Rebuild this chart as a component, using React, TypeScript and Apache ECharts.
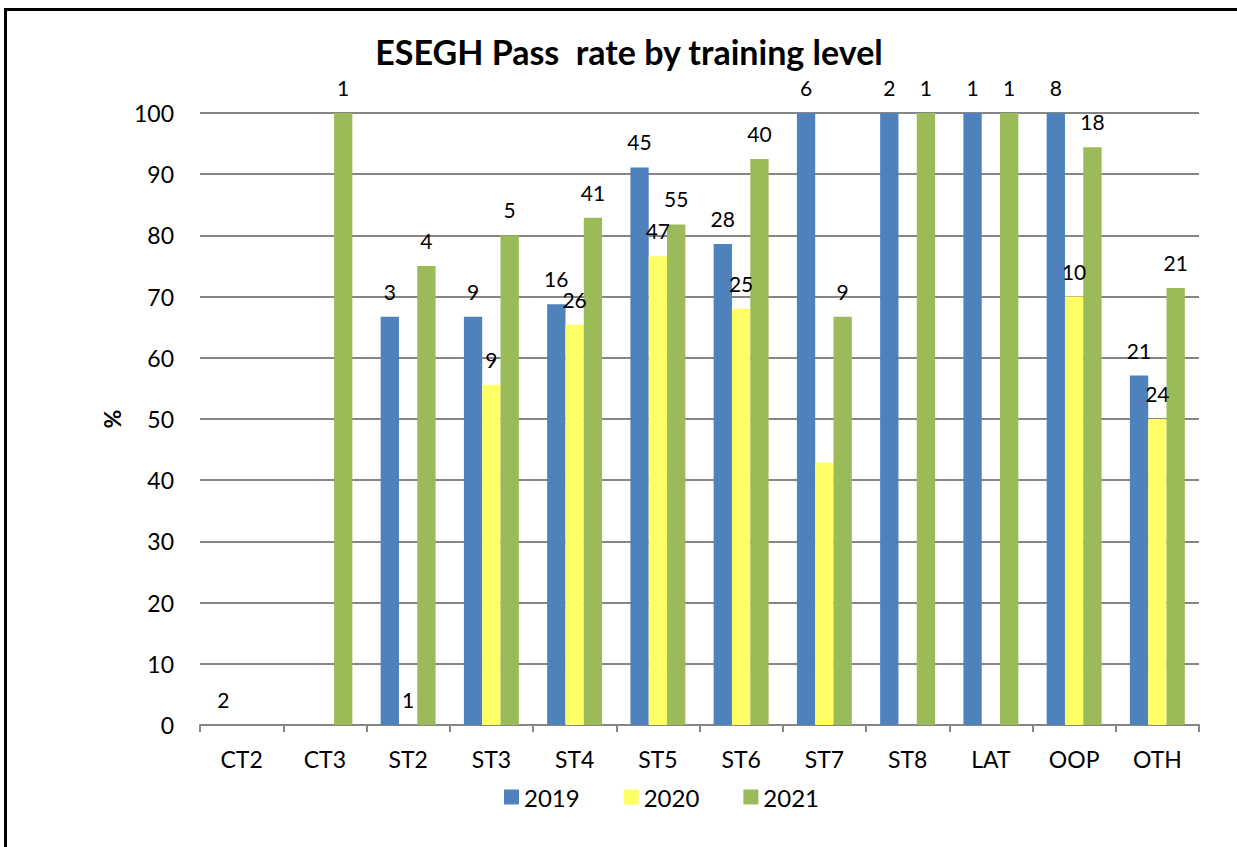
import React, { useEffect, useRef } from "react";
import * as echarts from "echarts";

const categories = ["CT2", "CT3", "ST2", "ST3", "ST4", "ST5", "ST6", "ST7", "ST8", "LAT", "OOP", "OTH"];
const seriesNames = ["2019", "2020", "2021"];
const values2019 = [0, null, 66.7, 66.7, 68.75, 91.1, 78.6, 100, 100, 100, 100, 57.1];
const values2020 = [null, null, 0, 55.6, 65.4, 76.6, 68, 42.9, null, null, 70, 50];
const values2021 = [null, 100, 75, 80, 82.9, 81.8, 92.5, 66.7, 100, 100, 94.4, 71.4];
const counts2019 = [2, null, 3, 9, 16, 45, 28, 6, 2, 1, 8, 21];
const counts2020 = [null, null, 1, 9, 26, 47, 25, null, null, null, 10, 24];
const counts2021 = [null, 1, 4, 5, 41, 55, 40, 9, 1, 1, 18, 21];
const colors = ["#4F81BD", "#FFFF66", "#9BBB59"];
const yTicks = { min: 0, max: 100, interval: 10 };

const FONT = "Lato, 'Open Sans', sans-serif";

export default function App() {
  const ref = useRef<HTMLDivElement>(null);
  useEffect(() => {
    if (!ref.current) return;
    const chart = echarts.init(ref.current, null, { renderer: "svg" });
    const allValues = [values2019, values2020, values2021];
    const allCounts = [counts2019, counts2020, counts2021];
    chart.setOption({
      animation: false,
      textStyle: { fontFamily: FONT },
      title: {
        text: "ESEGH Pass  rate by training level",
        left: 624,
        textAlign: "center",
        top: 29,
        textStyle: { fontFamily: FONT, fontWeight: "bold", fontSize: 34, color: "#000" },
      },
      legend: {
        data: seriesNames,
        left: 499,
        top: 780,
        itemWidth: 15,
        itemHeight: 15,
        itemGap: 44,
        icon: "rect",
        textStyle: { fontFamily: FONT, fontSize: 24, color: "#000" },
      },
      graphic: [
        {
          type: "rect",
          shape: { x: 5.5, y: 9.5, width: 1400, height: 1000 },
          style: { fill: "none", stroke: "#000", lineWidth: 3 },
          silent: true,
        },
      ],
      grid: { left: 200, right: 38, top: 113, bottom: 122 },
      xAxis: {
        type: "category",
        data: categories,
        axisLine: { show: true, lineStyle: { color: "#868686", width: 2 } },
        axisTick: { show: true, length: 7, alignWithLabel: false, lineStyle: { color: "#868686", width: 2 } },
        axisLabel: { fontFamily: FONT, fontSize: 23, color: "#000", margin: 22 },
      },
      yAxis: {
        type: "value",
        min: yTicks.min,
        max: yTicks.max,
        interval: yTicks.interval,
        name: "%",
        nameLocation: "middle",
        nameRotate: 90,
        nameGap: 77,
        nameTextStyle: { fontFamily: FONT, fontWeight: "bold", fontSize: 23, color: "#000" },
        axisLine: { show: false },
        axisTick: { show: false },
        splitLine: { show: true, lineStyle: { color: "#868686", width: 2 } },
        axisLabel: { fontFamily: FONT, fontSize: 23, color: "#000", margin: 26 },
      },
      series: seriesNames.map((name, si) => ({
        type: "bar",
        name,
        barGap: "0%",
        barCategoryGap: "34%",
        itemStyle: { color: colors[si] },
        data: allValues[si].map((v, i) => ({
          value: v,
          label: {
            show: allCounts[si][i] !== null,
            formatter: String(allCounts[si][i] ?? ""),
          },
        })),
        label: {
          show: true,
          position: "top",
          distance: 15,
          fontFamily: FONT,
          fontSize: 21,
          color: "#000",
        },
      })),
    });
    return () => chart.dispose();
  }, []);
  return (
    <div
      ref={ref}
      style={{ position: "absolute", left: 0, top: 0, width: 1237, height: 847, background: "#fff" }}
    />
  );
}
